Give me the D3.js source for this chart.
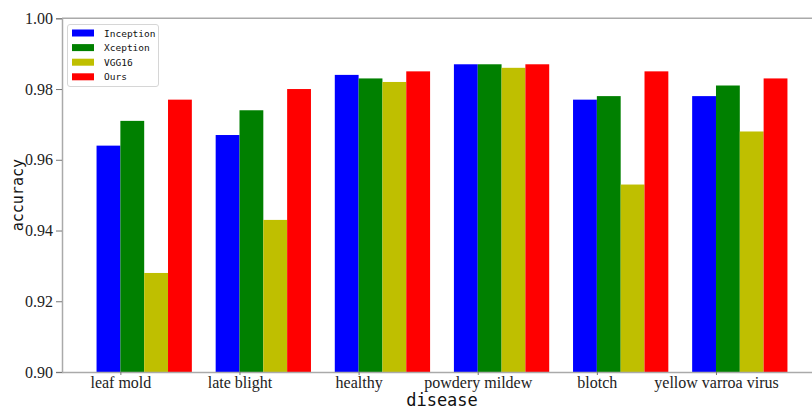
<!DOCTYPE html>
<html>
<head>
<meta charset="utf-8">
<script src="https://cdn.jsdelivr.net/npm/d3@7"></script>
<style>
  html, body { margin: 0; padding: 0; background: #fff; }
  svg { display: block; }
</style>
</head>
<body>
<svg id="chart" width="812" height="410"></svg>
<script>
const categories = ["leaf mold", "late blight", "healthy", "powdery mildew", "blotch", "yellow varroa virus"];
const seriesNames = ["Inception", "Xception", "VGG16", "Ours"];
const seriesColors = ["#0000ff", "#008000", "#bfbf00", "#ff0000"];
const inception = [0.964, 0.967, 0.984, 0.987, 0.977, 0.978];
const xception  = [0.971, 0.974, 0.983, 0.987, 0.978, 0.981];
const vgg16     = [0.928, 0.943, 0.982, 0.986, 0.953, 0.968];
const ours      = [0.977, 0.980, 0.985, 0.987, 0.985, 0.983];
const yTicks = [0.90, 0.92, 0.94, 0.96, 0.98, 1.00];
const xLabel = "disease";
const yLabel = "accuracy";

const series = [inception, xception, vgg16, ours];
const barWidth = 0.2;

const svg = d3.select("#chart");
const margin = { left: 62, top: 18.3, bottom: 372, right: 822 };

const x = d3.scaleLinear().domain([-0.49, 5.89]).range([margin.left, margin.right]);
const y = d3.scaleLinear().domain([0.90, 1.00]).range([margin.bottom, margin.top]);

// bars
series.forEach((vals, si) => {
  svg.append("g").selectAll("rect").data(vals).join("rect")
    .attr("x", (d, i) => x(i - barWidth + si * barWidth))
    .attr("width", x(barWidth) - x(0))
    .attr("y", d => y(d))
    .attr("height", d => y(0.90) - y(d))
    .attr("fill", seriesColors[si]);
});

const spineColor = "#aaaaaa";
// top spine
svg.append("line").attr("x1", margin.left).attr("x2", 812).attr("y1", margin.top).attr("y2", margin.top)
  .attr("stroke", spineColor).attr("stroke-width", 1.5);

// y axis
const yAxis = d3.axisLeft(y).tickValues(yTicks).tickFormat(d3.format(".2f")).tickSize(6).tickPadding(3);
const gy = svg.append("g").attr("transform", `translate(${margin.left},0)`).call(yAxis);
gy.select(".domain").attr("stroke", spineColor).attr("stroke-width", 1.5);
gy.selectAll(".tick line").attr("stroke", "#777").attr("stroke-width", 1);
gy.selectAll(".tick text").attr("font-family", "'Liberation Serif', 'Times New Roman', serif")
  .attr("font-size", 16).attr("fill", "#222");

// x axis
const xAxis = d3.axisBottom(x).tickValues(d3.range(categories.length)).tickFormat(i => categories[i]).tickSize(3).tickSizeOuter(0).tickPadding(2);
const gx = svg.append("g").attr("transform", `translate(0,${margin.bottom})`).call(xAxis);
gx.select(".domain").attr("stroke", spineColor).attr("stroke-width", 1.5);
gx.selectAll(".tick line").attr("stroke", "#777").attr("stroke-width", 1);
gx.selectAll(".tick text").attr("font-family", "'Liberation Serif', 'Times New Roman', serif")
  .attr("font-size", 16).attr("fill", "#222");

// axis labels
svg.append("text").attr("x", (margin.left + margin.right) / 2).attr("y", 406)
  .attr("text-anchor", "middle").attr("font-family", "'DejaVu Sans Mono', monospace")
  .attr("font-size", 17).attr("fill", "#111").text(xLabel);
svg.append("text").attr("transform", `translate(23,${(margin.top + margin.bottom) / 2}) rotate(-90)`)
  .attr("text-anchor", "middle").attr("font-family", "'DejaVu Sans Mono', monospace")
  .attr("font-size", 15).attr("fill", "#111").text(yLabel);

// legend
const lg = svg.append("g");
lg.append("rect").attr("x", 67.5).attr("y", 24.5).attr("width", 91).attr("height", 62).attr("rx", 2.5)
  .attr("fill", "#fff").attr("fill-opacity", 0.8).attr("stroke", "#d6d6d6").attr("stroke-width", 1);
seriesNames.forEach((name, i) => {
  const cy = 33 + i * 14.6;
  lg.append("rect").attr("x", 72).attr("y", cy - 3.5).attr("width", 22).attr("height", 7).attr("fill", seriesColors[i]);
  lg.append("text").attr("x", 104).attr("y", cy + 3.5).attr("font-family", "'DejaVu Sans Mono', monospace")
    .attr("font-size", 9.5).attr("fill", "#111").text(name);
});
</script>
</body>
</html>
